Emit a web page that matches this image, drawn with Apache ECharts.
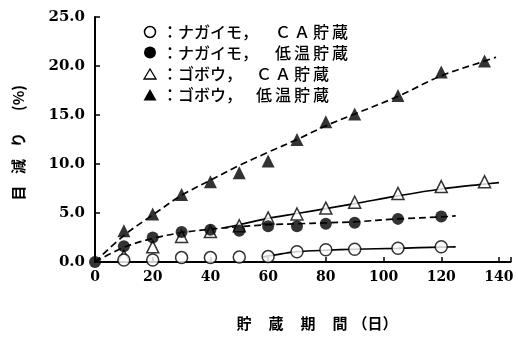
<!DOCTYPE html>
<html>
<head>
<meta charset="utf-8">
<script src="https://cdn.jsdelivr.net/npm/echarts@6/dist/echarts.min.js"></script>
<style>
  html, body { margin: 0; padding: 0; background: #fff; }
  #main { width: 518px; height: 340px; }
</style>
</head>
<body>
<div id="main"></div>
<script>
// Storage period (days) and weight loss (%) per sample
const yamDays = [10, 20, 30, 40, 50, 60, 70, 80, 90, 105, 120];
const yamCA = [0.2, 0.2, 0.45, 0.45, 0.5, 0.55, 1.05, 1.25, 1.3, 1.4, 1.55];
const yamColdDays = [0, 10, 20, 30, 40, 50, 60, 70, 80, 90, 105, 120];
const yamCold = [0, 1.6, 2.5, 3.05, 3.3, 3.2, 3.65, 3.65, 3.9, 4.0, 4.4, 4.65];
const burdockDays = [10, 20, 30, 40, 50, 60, 70, 80, 90, 105, 120, 135];
const burdockCA = [0.6, 1.55, 2.6, 3.1, 3.7, 4.5, 4.9, 5.5, 6.1, 7.0, 7.7, 8.2];
const burdockCold = [3.2, 4.9, 6.9, 8.2, 9.1, 10.3, 12.5, 14.3, 15.1, 17.0, 19.4, 20.5];

// Fitted trend curves
const fitYamCADays = [58, 65, 70, 80, 90, 105, 120, 125];
const fitYamCA = [0.5, 0.85, 1.05, 1.2, 1.3, 1.4, 1.52, 1.55];
const fitYamColdDays = [0, 10, 20, 30, 40, 50, 60, 70, 80, 90, 105, 120, 125];
const fitYamCold = [0, 1.5, 2.4, 3.0, 3.35, 3.6, 3.8, 3.9, 4.0, 4.1, 4.4, 4.6, 4.7];
const fitBurdockCADays = [45, 50, 60, 70, 80, 90, 105, 120, 135, 140];
const fitBurdockCA = [3.5, 3.8, 4.45, 4.95, 5.45, 5.95, 6.75, 7.45, 7.95, 8.1];
const fitBurdockColdDays = [0, 10, 20, 30, 40, 50, 60, 70, 80, 90, 105, 120, 135, 139];
const fitBurdockCold = [0, 2.7, 4.8, 6.8, 8.35, 9.85, 11.2, 12.5, 13.9, 15.1, 16.9, 19.0, 20.5, 20.9];

// Axis ticks
const xTicks = [0, 20, 40, 60, 80, 100, 120, 140];
const yTicks = [0, 5, 10, 15, 20, 25];

// Legend entries
const legendPart1 = ['：ナガイモ，', '：ナガイモ，', '：ゴボウ，', '：ゴボウ，'];
const legendPart2 = ['ＣＡ貯蔵', '低温貯蔵', 'ＣＡ貯蔵', '低温貯蔵'];

const pairs = (xs, ys) => xs.map((x, i) => [x, ys[i]]);

const cjk = '"Noto Sans CJK JP", sans-serif';
const numFont = '"DejaVu Serif", serif';

// Lay out a string one character per cell
function spaced(str, x0, y, pitch, font) {
  return Array.from(str).map((ch, i) => ({
    type: 'text', x: x0 + i * pitch, y: y,
    style: { text: ch, font: font, fill: '#000', align: 'center', verticalAlign: 'middle' }
  }));
}

const legendFont = '500 16px ' + cjk;
const legendY = [32, 52.5, 74, 95];
const legendGraphics = [];
legendY.forEach((y, i) => {
  const sx = 150;
  if (i === 0) legendGraphics.push({ type: 'circle', shape: { cx: sx, cy: y, r: 5.5 }, style: { fill: '#fff', stroke: '#000', lineWidth: 1.5 } });
  if (i === 1) legendGraphics.push({ type: 'circle', shape: { cx: sx, cy: y, r: 6 }, style: { fill: '#000' } });
  if (i === 2) legendGraphics.push({ type: 'polygon', shape: { points: [[sx, y - 5], [sx - 6, y + 5], [sx + 6, y + 5]] }, style: { fill: '#fff', stroke: '#000', lineWidth: 1.3 } });
  if (i === 3) legendGraphics.push({ type: 'polygon', shape: { points: [[sx, y - 6], [sx - 6.5, y + 5.5], [sx + 6.5, y + 5.5]] }, style: { fill: '#000' } });
  legendGraphics.push(...spaced(legendPart1[i], 170, y, 16, legendFont));
  const start2 = i < 2 ? 283 : 264;
  legendGraphics.push(...spaced(legendPart2[i], start2, y, 19, legendFont));
});

const titleFont = 'bold 15px ' + cjk;
const xTitle = [
  ...spaced('貯蔵期間', 244, 323, 32, titleFont),
  { type: 'text', x: 375, y: 323, style: { text: '（日）', font: titleFont, fill: '#000', align: 'center', verticalAlign: 'middle' } }
];
const yTitle = {
  type: 'group', x: 18, y: 142, rotation: Math.PI / 2,
  children: [
    ...spaced('目減り', -51, 0, 26.5, titleFont),
    { type: 'text', x: 44, y: 0, style: { text: '(%)', font: titleFont, fill: '#000', align: 'center', verticalAlign: 'middle' } }
  ]
};

const fitLine = (data, dashed) => ({
  type: 'line', data: data, smooth: 0.35, showSymbol: false, silent: true, z: 2,
  lineStyle: { color: '#000', width: 1.7, type: dashed ? [7, 4] : 'solid' }
});

const marks = (data, symbol, filled, size) => ({
  type: 'scatter', data: data, symbol: symbol, symbolSize: size, z: 5,
  itemStyle: filled ? { color: '#000' } : { color: '#fff', borderColor: '#000', borderWidth: 1.5 }
});

const chart = echarts.init(document.getElementById('main'), null, { renderer: 'canvas' });
chart.setOption({
  animation: false,
  backgroundColor: '#fff',
  grid: { left: 95, right: 7.5, top: 17, bottom: 78 },
  xAxis: {
    type: 'value', min: 0, max: 144, interval: 20,
    axisLine: { show: true, lineStyle: { color: '#000', width: 2 } },
    axisTick: { show: true, inside: true, length: 5, lineStyle: { color: '#000', width: 1.5 } },
    splitLine: { show: false },
    axisLabel: {
      color: '#000', fontFamily: numFont, fontWeight: 'bold', fontSize: 14, margin: 8,
      formatter: v => xTicks.includes(v) ? String(v) : ''
    }
  },
  yAxis: {
    type: 'value', min: 0, max: 25, interval: 5,
    axisLine: { show: true, lineStyle: { color: '#000', width: 2 } },
    axisTick: { show: true, inside: true, length: 5, lineStyle: { color: '#000', width: 1.5 } },
    splitLine: { show: false },
    axisLabel: {
      color: '#000', fontFamily: numFont, fontWeight: 'bold', fontSize: 15, margin: 10,
      formatter: v => yTicks.includes(v) ? v.toFixed(1) : ''
    }
  },
  graphic: [...legendGraphics, ...xTitle, yTitle],
  series: [
    fitLine(pairs(fitBurdockColdDays, fitBurdockCold), true),
    fitLine(pairs(fitBurdockCADays, fitBurdockCA), false),
    fitLine(pairs(fitYamColdDays, fitYamCold), true),
    fitLine(pairs(fitYamCADays, fitYamCA), false),
    marks(pairs(burdockDays, burdockCold), 'triangle', true, 13),
    marks(pairs(burdockDays, burdockCA), 'triangle', false, 12),
    marks(pairs(yamDays, yamCA), 'circle', false, 12),
    marks(pairs(yamColdDays, yamCold), 'circle', true, 12)
  ]
});
</script>
</body>
</html>
